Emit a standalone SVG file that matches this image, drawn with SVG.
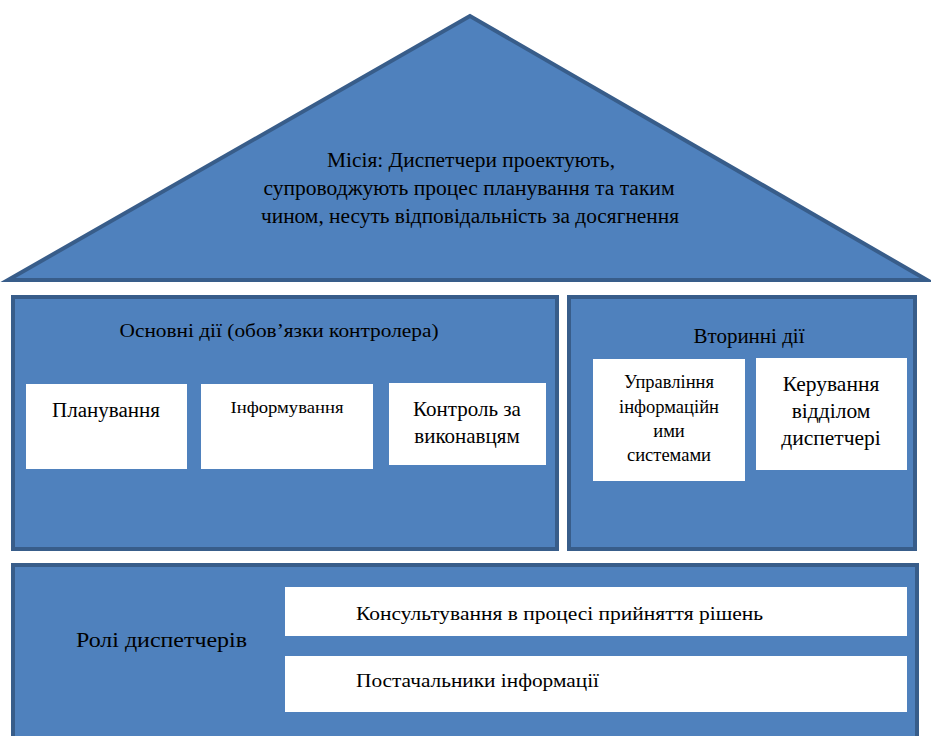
<svg xmlns="http://www.w3.org/2000/svg" width="931" height="736" viewBox="0 0 931 736">
<style>
.blue{fill:#4f81bd;stroke:#385d8a;stroke-width:4}
.white{fill:#ffffff;stroke:none}
.c{text-anchor:middle}
</style>
<rect width="931" height="736" fill="#ffffff"/>
<g font-family="'Liberation Serif', 'DejaVu Serif', 'Times New Roman', serif" fill="#000">
<g id="mission">
<polygon class="blue" points="470,16 8,280 927,280" stroke-width="5"/>
<text class="c" x="471" y="167" font-size="20" textLength="288" lengthAdjust="spacingAndGlyphs">Місія: Диспетчери проектують,</text>
<text class="c" x="469" y="195" font-size="20" textLength="411" lengthAdjust="spacingAndGlyphs">супроводжують процес планування та таким</text>
<text class="c" x="470" y="223" font-size="20" textLength="418" lengthAdjust="spacingAndGlyphs">чином, несуть відповідальність за досягнення</text>
</g>
<g id="main-actions">
<rect class="blue" x="13" y="297" width="544" height="252"/>
<text class="c" x="279" y="337" font-size="19" textLength="319" lengthAdjust="spacingAndGlyphs">Основні дії (обов’язки контролера)</text>
</g>
<g id="planning">
<rect class="white" x="26" y="384" width="161" height="85"/>
<text class="c" x="106" y="417" font-size="20" textLength="108" lengthAdjust="spacingAndGlyphs">Планування</text>
</g>
<g id="informing">
<rect class="white" x="201" y="384" width="172" height="85"/>
<text class="c" x="287" y="413" font-size="17" textLength="113" lengthAdjust="spacingAndGlyphs">Інформування</text>
</g>
<g id="control">
<rect class="white" x="389" y="383" width="157" height="82"/>
<text class="c" x="467" y="416" font-size="21">Контроль за</text>
<text class="c" x="467" y="443" font-size="21">виконавцям</text>
</g>
<g id="secondary-actions">
<rect class="blue" x="569" y="297" width="346" height="252"/>
<text class="c" x="749" y="343" font-size="21">Вторинні дії</text>
</g>
<g id="info-systems">
<rect class="white" x="593" y="359" width="152" height="122"/>
<text class="c" x="669" y="388" font-size="18.5">Управління</text>
<text class="c" x="669" y="413" font-size="18.5">інформаційн</text>
<text class="c" x="669" y="437" font-size="18.5">ими</text>
<text class="c" x="669" y="461" font-size="18.5">системами</text>
</g>
<g id="dept-management">
<rect class="white" x="756" y="358" width="151" height="112"/>
<text class="c" x="831" y="391" font-size="21.5">Керування</text>
<text class="c" x="831" y="418" font-size="21.5">відділом</text>
<text class="c" x="831" y="445" font-size="21.5">диспетчері</text>
</g>
<g id="roles">
<rect class="blue" x="13" y="565" width="904" height="190"/>
<text x="76" y="647" font-size="21" textLength="171" lengthAdjust="spacingAndGlyphs">Ролі диспетчерів</text>
</g>
<g id="consulting">
<rect class="white" x="285" y="587" width="622" height="49"/>
<text x="356" y="620" font-size="19" textLength="407" lengthAdjust="spacingAndGlyphs">Консультування в процесі прийняття рішень</text>
</g>
<g id="suppliers">
<rect class="white" x="285" y="656" width="622" height="56"/>
<text x="356" y="687" font-size="19" textLength="243" lengthAdjust="spacingAndGlyphs">Постачальники інформації</text>
</g>
</g>
<g id="connectors"></g>
</svg>
